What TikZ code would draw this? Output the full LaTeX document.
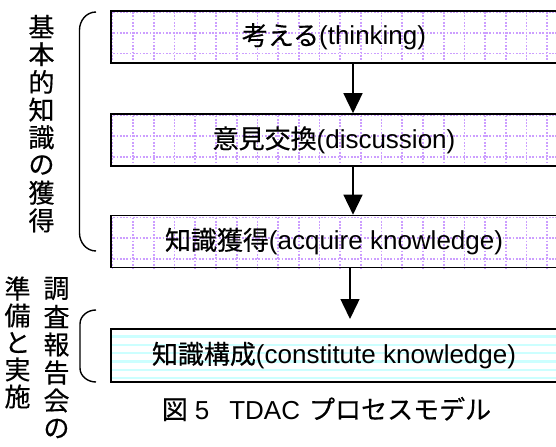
\documentclass[tikz,border=0pt]{standalone}
\usepackage{fontspec}
\setmainfont{Liberation Sans}
\newfontfamily\jp[FakeBold=0.4]{Noto Sans CJK JP}
\usetikzlibrary{arrows.meta}
\definecolor{gridviolet}{rgb}{0.8,0.62,1}
\definecolor{lcyan}{rgb}{0.8,1,1}
\begin{document}
\begin{tikzpicture}[x=1bp,y=-1bp,
  boxline/.style={draw=black, line width=1.6bp, minimum width=446bp, minimum height=52bp, inner sep=0pt,
    font=\fontsize{26bp}{30bp}\selectfont},
  gridl/.style={draw=gridviolet, line width=1.7bp, dash pattern=on 1.7bp off 1.6bp},
  cyanl/.style={draw=lcyan, line width=2.2bp},
  arr/.style={line width=1.5bp, -{Triangle[width=19bp,length=20bp]}},
  br/.style={line width=1.4bp},
  vt/.style={font=\jp\fontsize{26bp}{30bp}\selectfont, inner sep=0pt},
  captext/.style={font=\fontsize{26bp}{30bp}\selectfont, inner sep=0pt}
]
\useasboundingbox (0,0) rectangle (556,447);
\clip (0,0) rectangle (556,447);

% patterns
\foreach \t in {10.5,114,216}{
  \begin{scope}
    \clip (111,\t) rectangle (557,\t+52);
    \foreach \k in {0,1,2} \draw[gridl] (100,\t+1.5+20.7*\k) -- (570,\t+1.5+20.7*\k);
    \foreach \k in {0,...,22} \draw[gridl] (112.5+20.7*\k,\t-5) -- (112.5+20.7*\k,\t+60);
  \end{scope}
}
\begin{scope}
  \clip (111,329) rectangle (557,382);
  \foreach \k in {0,...,5} \draw[cyanl] (100,336.5+8.3*\k) -- (570,336.5+8.3*\k);
\end{scope}

% boxes
\node[boxline] (b1) at (334,36.75) {{\jp 考える}(thinking)};
\node[boxline] (b2) at (334,140) {{\jp 意見交換}(discussion)};
\node[boxline] (b3) at (334,241.5) {{\jp 知識獲得}(acquire knowledge)};
\node[boxline, minimum height=53bp] (b4) at (334,355.5) {{\jp 知識構成}(constitute knowledge)};

% arrows
\coordinate (ax1) at (353,0);
\coordinate (ax3) at (350,0);
\coordinate (e3) at (350,319);
\draw[arr] (b1.south -| ax1) -- (b2.north -| ax1);
\draw[arr] (b2.south -| ax1) -- (b3.north -| ax1);
\draw[arr] (b3.south -| ax3) -- (e3);

% brackets
\draw[br] (96,12) to[out=180,in=90] (79.5,30) -- (79.5,233) to[out=-90,in=180] (96,251);
\draw[br] (96,310) to[out=180,in=90] (80,324) -- (80,368) to[out=-90,in=180] (96,382);

% vertical texts
\foreach \c [count=\i] in {基,本,的,知,識,の,獲,得}
  \node[vt] (ca-\i) at (41.5,26.5+27.7*\i-27.7) {\c};
\foreach \c [count=\i] in {調,査,報,告,会,の}
  \node[vt] (cb-\i) at (56.5,288.5+28*\i-28) {\c};
\foreach \c [count=\i] in {準,備,と,実,施}
  \node[vt] (cc-\i) at (17.5,288.5+27*\i-27) {\c};

% caption
\node[captext] (caption) at (326.5,409) {{\jp 図}\hspace{7bp}5\hspace{20bp}TDAC\hspace{9bp}{\jp プロセスモデル}};
\end{tikzpicture}
\end{document}
